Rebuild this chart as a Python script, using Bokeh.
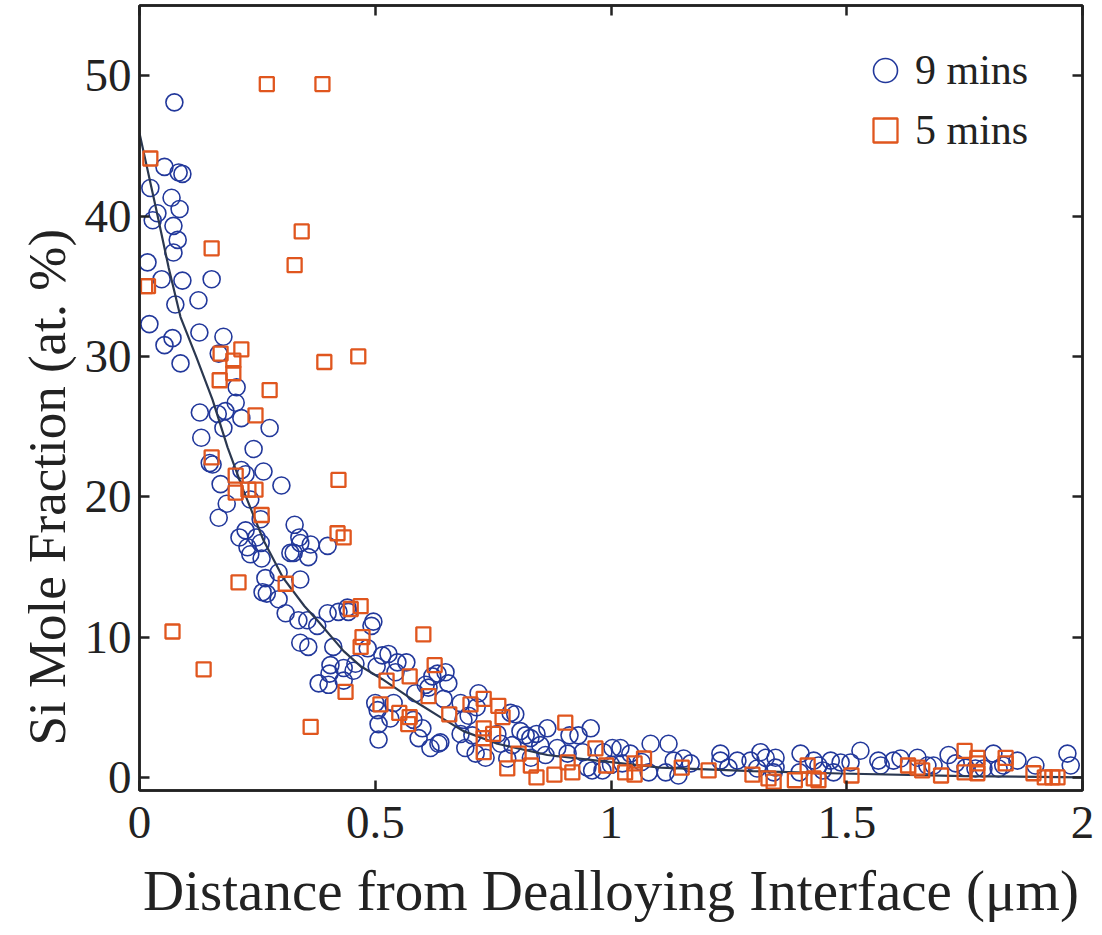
from bokeh.plotting import figure
from bokeh.models import (LinearAxis, FixedTicker, Legend, LegendItem, Range1d, Title,
                          CustomLabelingPolicy)
from bokeh.embed import file_html
from bokeh.resources import INLINE

# ---- data ----
c9_x = [0.074,0.053,0.083,0.091,0.023,0.068,0.085,0.038,0.028,0.072,0.081,0.072,0.017,0.047,0.091,0.153,
        0.076,0.125,0.021,0.070,0.053,0.127,0.178,0.087,0.168,
        0.206,0.204,0.182,0.128,0.166,0.216,0.178,0.276,0.131,0.242,0.263,0.216,0.149,0.155,0.172,0.225,
        0.301,0.185,0.168,0.235,0.225,0.248,0.329,0.212,0.339,0.257,
        0.229,0.257,0.235,0.259,0.320,0.327,0.358,0.341,0.363,0.399,0.295,0.267,0.341,0.261,0.270,0.295,
        0.310,0.337,0.356,0.377,0.399,0.422,0.441,0.443,0.496,0.492,0.341,0.358,0.411,0.484,0.405,0.433,
        0.458,0.454,0.515,0.528,0.503,0.547,0.566,0.403,0.380,0.401,0.433,0.543,0.585,0.613,0.621,0.500,
        0.505,0.539,0.532,0.507,0.507,0.581,0.600,0.592,0.617,0.607,0.632,
        0.649,0.655,0.645,0.681,0.719,0.715,0.698,0.687,0.681,0.691,0.634,0.706,0.713,0.734,0.787,0.797,
        0.759,0.766,0.791,0.808,0.819,0.829,0.842,0.865,0.850,0.886,0.912,0.931,0.957,0.908,0.940,0.984,
        1.003,1.020,1.041,1.084,1.024,1.080,0.982,0.960,0.780,0.830,0.861,0.950,0.638,1.000,1.065,
        1.122,1.133,1.154,1.169,1.116,1.143,1.232,1.232,1.249,1.268,1.296,1.317,1.328,1.349,1.310,1.349,
        1.345,1.402,1.430,1.440,1.466,1.487,1.508,1.400,1.449,1.472,1.529,1.567,1.572,1.599,1.614,1.650,
        1.671,1.684,1.716,1.731,1.752,1.773,1.790,1.811,1.822,1.832,1.862,1.900,1.968,1.975]
c9_y = [48.1,43.5,43.1,43.0,42.0,41.3,40.5,40.2,39.7,39.3,38.3,37.4,36.7,35.5,35.4,35.5,
        33.7,34.0,32.3,31.3,30.8,31.7,31.4,29.5,30.2,
        27.8,26.7,26.1,26.0,25.9,25.6,24.9,24.9,24.2,23.4,21.8,21.9,22.4,22.3,20.9,21.6,
        20.8,19.5,18.5,19.8,17.6,17.1,18.0,17.1,17.1,18.4,
        16.4,16.7,15.9,15.6,16.0,16.0,15.7,16.7,16.6,16.5,14.6,14.2,14.1,13.2,13.1,12.7,
        11.7,11.2,11.2,10.8,11.7,11.8,12.1,11.8,11.1,10.8,9.6,9.3,9.3,9.2,8.0,7.8,
        8.1,7.6,8.7,8.8,7.9,8.2,8.2,7.4,6.7,6.6,6.9,7.5,6.0,6.4,7.2,5.3,
        4.8,5.3,4.2,3.8,2.7,4.1,3.5,2.8,2.1,6.6,7.4,
        7.5,6.7,5.6,5.3,6.0,5.0,4.4,4.1,3.1,2.1,2.4,3.0,1.7,1.4,4.6,4.5,
        3.1,2.4,2.3,3.3,3.0,2.8,3.1,3.5,2.3,2.1,3.0,3.0,3.5,1.7,1.8,1.8,
        2.1,2.1,1.7,2.4,1.0,0.36,0.5,0.5,1.35,1.4,1.6,0.7,2.5,0.9,1.1,
        2.4,1.2,1.35,1.0,0.36,0.14,1.7,1.2,0.7,1.2,1.2,1.8,1.4,1.4,0.64,0.7,
        0.36,1.7,1.2,0.85,1.2,1.07,1.07,0.36,0.5,0.36,1.9,1.2,0.85,1.2,1.35,1.4,
        0.85,0.85,1.6,1.0,0.7,0.64,0.64,1.7,0.64,0.85,1.2,0.85,1.7,0.85]

s5_x = [0.023,0.012,0.018,0.270,0.388,0.153,0.344,0.329,
        0.172,0.216,0.199,0.199,0.170,0.276,0.246,0.392,0.464,0.153,0.204,0.204,0.231,0.246,0.259,
        0.422,0.420,0.433,0.210,0.310,0.070,0.136,0.363,0.437,0.448,0.469,0.473,0.469,
        0.602,0.626,0.573,0.524,0.613,0.511,0.551,0.573,0.570,
        0.657,0.702,0.730,0.761,0.770,0.730,0.750,0.730,0.730,0.903,0.804,0.780,0.830,0.842,0.880,
        0.918,0.908,0.967,0.990,1.030,1.050,1.070,1.050,
        1.150,1.207,1.300,1.334,1.345,1.390,1.417,1.430,1.440,1.510,1.630,1.650,1.660,1.700,1.750,
        1.750,1.777,1.777,1.777,1.837,1.837,1.896,1.920,1.936,1.947]
s5_y = [44.1,35.0,35.0,49.4,49.4,37.7,38.9,36.5,
        30.2,30.5,29.7,28.8,28.3,27.6,25.8,29.6,30.0,22.8,21.5,20.3,20.5,20.5,18.7,
        21.2,17.4,17.1,13.9,13.8,10.4,7.7,3.6,6.1,12.0,12.2,10.0,9.3,
        10.2,8.0,7.2,6.9,5.8,5.2,4.6,4.3,3.8,
        4.5,5.2,5.6,5.1,4.3,3.5,3.1,2.8,1.8,3.9,1.7,0.64,0.85,0.0,0.2,
        0.36,1.07,2.07,0.85,0.36,1.0,1.35,0.2,
        0.7,0.5,0.2,-0.07,-0.3,-0.2,0.85,-0.07,-0.2,0.14,0.85,0.7,0.5,0.14,1.9,
        0.36,1.4,1.0,0.3,1.4,1.0,0.3,0.0,0.0,0.0]

fit_x = [0.0,0.036,0.062,0.087,0.12,0.155,0.187,0.221,0.263,0.305,0.35,0.377,0.433,0.47,0.515,
         0.59,0.638,0.687,0.759,0.865,0.971,1.105,1.3,1.487,1.75,2.0]
fit_y = [45.9,40.4,36.3,32.8,30.0,26.9,23.5,20.4,16.9,14.2,12.2,11.2,9.0,7.9,7.0,
         5.3,4.3,3.3,2.4,1.6,1.2,0.7,0.45,0.28,0.1,0.0]

x_ticks = [0, 0.5, 1, 1.5, 2]
x_tick_labels = ["0", "0.5", "1", "1.5", "2"]
y_ticks = [0, 10, 20, 30, 40, 50]

FONT = "Liberation Serif"
BLUE = "#22389b"
ORANGE = "#e0561e"
INK = "#222222"

p = figure(width=1102, height=935, x_range=Range1d(0, 2), y_range=Range1d(-0.93, 55.0),
           output_backend="svg", toolbar_location=None,
           min_border_left=139, min_border_right=20, min_border_top=5, min_border_bottom=145)
p.xgrid.visible = False
p.ygrid.visible = False
p.outline_line_color = INK
p.outline_line_width = 2.5
p.background_fill_color = "white"
p.border_fill_color = "white"

c = p.scatter(c9_x, c9_y, marker="circle", size=17, fill_color=None,
              line_color=BLUE, line_width=1.6)
p.line(fit_x, fit_y, line_color="#2b3850", line_width=2.2)
s = p.scatter(s5_x, s5_y, marker="square", size=14, fill_color=None,
              line_color=ORANGE, line_width=2.3)

hide_labels = CustomLabelingPolicy(code="""
for (const i of [...indices]) { indices.unset(i) }
return indices
""")

def style_axis(ax, show_labels):
    ax.axis_line_color = INK
    ax.axis_line_width = 2.5
    ax.major_tick_line_color = INK
    ax.major_tick_line_width = 2.5
    ax.major_tick_in = 10
    ax.major_tick_out = 0
    ax.minor_tick_line_color = None
    if show_labels:
        ax.major_label_text_font = FONT
        ax.major_label_text_font_size = "47px"
        ax.major_label_text_color = INK
        ax.axis_label_text_font = FONT
        ax.axis_label_text_font_size = "57px"
        ax.axis_label_text_font_style = "normal"
        ax.axis_label_text_color = INK
    else:
        ax.major_label_policy = hide_labels
        ax.major_label_text_font_size = "2px"
        ax.major_label_standoff = 0

xa = p.xaxis[0]
xa.ticker = FixedTicker(ticks=x_ticks)
xa.major_label_overrides = {t: l for t, l in zip(x_ticks, x_tick_labels)}
xa.axis_label = "Distance from Dealloying Interface (μm)"
style_axis(xa, True)
xa.major_label_standoff = 16
xa.axis_label_standoff = 18

ya = p.yaxis[0]
ya.ticker = FixedTicker(ticks=y_ticks)
style_axis(ya, True)
ya.major_label_standoff = 8

ytitle = Title(text="Si Mole Fraction (at. %)", align="left", offset=45,
               text_font=FONT, text_font_size="53px", text_font_style="normal",
               text_color=INK, standoff=12)
p.add_layout(ytitle, "left")

top = LinearAxis(ticker=FixedTicker(ticks=x_ticks))
style_axis(top, False)
p.add_layout(top, "above")
right = LinearAxis(ticker=FixedTicker(ticks=y_ticks))
style_axis(right, False)
p.add_layout(right, "right")

legend = Legend(items=[LegendItem(label="9 mins", renderers=[c]),
                       LegendItem(label="5 mins", renderers=[s])],
                location=(716, 630), orientation="vertical")
legend.glyph_width = 60
legend.glyph_height = 60
legend.spacing = 0
legend.padding = 0
legend.margin = 0
legend.label_standoff = 0
legend.label_text_font = FONT
legend.label_text_font_size = "42px"
legend.label_text_color = INK
legend.border_line_color = None
legend.background_fill_alpha = 0
p.add_layout(legend)

open("out.html", "w").write(file_html(p, INLINE))
